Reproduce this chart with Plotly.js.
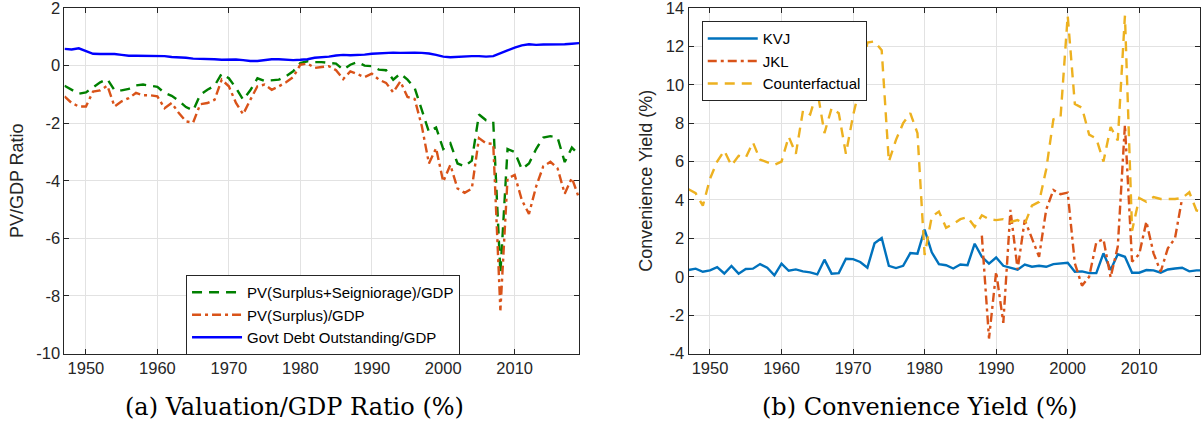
<!DOCTYPE html>
<html><head><meta charset="utf-8">
<script src="https://cdn.plot.ly/plotly-3.0.1.min.js"></script>
<style>html,body{margin:0;padding:0;background:#fff;}#chart{width:1201px;height:425px;}</style>
</head><body><div id="chart"></div>
<script>
// ---------- data ----------
const years = [1947,1948,1949,1950,1951,1952,1953,1954,1955,1956,1957,1958,1959,1960,1961,1962,1963,1964,1965,1966,
  1967,1968,1969,1970,1971,1972,1973,1974,1975,1976,1977,1978,1979,1980,1981,1982,1983,1984,1985,1986,
  1987,1988,1989,1990,1991,1992,1993,1994,1995,1996,1997,1998,1999,2000,2001,2002,2003,2004,2005,2006,
  2007,2008,2009,2010,2011,2012,2013,2014,2015,2016,2017,2018,2019];

// Panel (a)
const pvSurplusSeign = [-0.7,-0.84,-0.98,-0.93,-0.74,-0.58,-0.47,-0.86,-0.86,-0.81,
  -0.69,-0.66,-0.7,-0.74,-0.95,-1.05,-1.22,-1.44,-1.56,-1.01,
  -0.84,-0.7,-0.28,-0.44,-0.78,-1.19,-0.86,-0.44,-0.53,-0.51,
  -0.49,-0.37,-0.2,0.09,0.15,0.12,0.12,0.09,0.07,-0.14,
  0.03,0.12,0.0,-0.02,-0.14,-0.16,-0.49,-0.28,-0.49,-0.78,
  -1.55,-2.3,-2.15,-2.9,-2.7,-3.4,-3.5,-3.3,-1.7,-1.9,
  -1.95,-7.2,-2.9,-3.0,-3.6,-3.4,-2.9,-2.5,-2.45,-2.5,
  -3.35,-2.85,-3.1];
const pvSurplus = [-1.07,-1.3,-1.42,-1.42,-0.9,-0.86,-0.7,-1.42,-1.24,-1.13,
  -0.95,-1.03,-1.03,-1.07,-1.48,-1.3,-1.65,-1.94,-1.98,-1.34,
  -1.3,-1.19,-0.49,-0.72,-1.3,-1.69,-1.19,-0.72,-0.66,-0.84,
  -0.72,-0.58,-0.4,0.03,0.07,-0.08,-0.05,-0.02,-0.16,-0.47,
  -0.2,-0.31,-0.4,-0.28,-0.49,-0.6,-0.93,-0.55,-1.09,-1.16,
  -2.1,-3.4,-2.87,-4.03,-3.45,-4.27,-4.42,-4.27,-2.52,-2.7,
  -2.72,-8.5,-3.92,-3.8,-4.67,-5.15,-4.2,-3.5,-3.34,-3.57,
  -4.45,-3.9,-4.6];
const govtDebt = [0.58,0.56,0.6,0.5,0.41,0.4,0.41,0.4,0.37,0.34,
  0.34,0.34,0.35,0.34,0.33,0.3,0.29,0.27,0.24,0.24,
  0.23,0.22,0.2,0.21,0.21,0.19,0.16,0.16,0.2,0.22,
  0.22,0.2,0.19,0.2,0.22,0.27,0.28,0.31,0.35,0.37,
  0.36,0.36,0.38,0.41,0.43,0.44,0.45,0.44,0.45,0.45,
  0.44,0.42,0.37,0.31,0.29,0.31,0.33,0.33,0.33,0.31,
  0.33,0.44,0.53,0.62,0.7,0.74,0.72,0.73,0.73,0.74,
  0.74,0.76,0.78];

// Panel (b)
const kvj = [0.35,0.42,0.26,0.33,0.5,0.17,0.56,0.16,0.4,0.42,
  0.66,0.47,0.07,0.68,0.31,0.38,0.28,0.23,0.12,0.89,
  0.16,0.19,0.94,0.92,0.77,0.47,1.74,2.02,0.57,0.45,
  0.57,1.23,1.2,2.45,1.27,0.66,0.6,0.43,0.64,0.6,
  1.72,1.04,0.68,1.0,0.57,0.49,0.37,0.63,0.52,0.57,
  0.52,0.66,0.7,0.73,0.26,0.28,0.19,0.19,1.22,0.35,
  1.17,1.04,0.21,0.21,0.35,0.33,0.21,0.38,0.43,0.47,
  0.28,0.33,0.33];
const jklYears = [1988,1989,1990,1991,1992,1993,1994,1995,1996,1997,1998,1999,2000,2001,2002,
  2003,2004,2005,2006,2007,2008,2009,2010,2011,2012,2013,2014,2015,2016];
const jkl = [2.14,-3.22,0.26,-2.4,3.48,0.38,2.96,2.0,1.04,3.5,4.52,4.3,4.38,0.7,-0.47,
  0.0,1.79,1.95,-0.03,1.57,7.9,0.78,1.18,2.87,1.22,0.26,1.48,2.0,4.09];
const counterfactual = [4.56,4.35,3.7,5.1,6.0,6.57,5.8,6.3,6.2,7.0,
  6.1,5.97,5.83,6.0,7.3,6.4,8.66,8.45,9.7,7.48,
  8.78,8.52,6.4,8.4,10.0,12.2,12.26,11.8,6.0,7.13,
  8.0,8.52,7.48,1.13,3.13,3.4,2.55,2.75,3.0,3.1,
  2.6,3.2,3.0,2.95,3.0,2.85,2.95,2.75,3.7,3.9,
  5.6,8.2,8.3,13.6,9.0,8.8,7.4,7.2,6.0,7.8,
  7.1,13.6,2.4,4.1,3.9,4.15,4.05,4.05,4.05,4.1,
  4.4,3.45,3.4];

// tick labels
const xTickVals = [1950,1960,1970,1980,1990,2000,2010];
const xTickText = ['1950','1960','1970','1980','1990','2000','2010'];
const yTickValsA = [-10,-8,-6,-4,-2,0,2];
const yTickTextA = ['-10','-8','-6','-4','-2','0','2'];
const yTickValsB = [-4,-2,0,2,4,6,8,10,12,14];
const yTickTextB = ['-4','-2','0','2','4','6','8','10','12','14'];

// ---------- chart ----------
const sans = 'Liberation Sans, Arial, Helvetica, sans-serif';
const traces = [
  {x: years, y: pvSurplusSeign, name: 'PV(Surplus+Seigniorage)/GDP', type: 'scatter', mode: 'lines',
   line: {color: '#008000', width: 2.4, dash: '10px,7px'}, xaxis: 'x', yaxis: 'y', legend: 'legend'},
  {x: years, y: pvSurplus, name: 'PV(Surplus)/GDP', type: 'scatter', mode: 'lines',
   line: {color: '#D95319', width: 2.4, dash: '9px,4px,3px,4px'}, xaxis: 'x', yaxis: 'y', legend: 'legend'},
  {x: years, y: govtDebt, name: 'Govt Debt Outstanding/GDP', type: 'scatter', mode: 'lines',
   line: {color: '#0000FF', width: 2.4}, xaxis: 'x', yaxis: 'y', legend: 'legend'},
  {x: years, y: kvj, name: 'KVJ', type: 'scatter', mode: 'lines',
   line: {color: '#0072BD', width: 2.4}, xaxis: 'x2', yaxis: 'y2', legend: 'legend2'},
  {x: jklYears, y: jkl, name: 'JKL', type: 'scatter', mode: 'lines',
   line: {color: '#D95319', width: 2.4, dash: '9px,4px,3px,4px'}, xaxis: 'x2', yaxis: 'y2', legend: 'legend2'},
  {x: years, y: counterfactual, name: 'Counterfactual', type: 'scatter', mode: 'lines',
   line: {color: '#EDB120', width: 2.4, dash: '10px,7px'}, xaxis: 'x2', yaxis: 'y2', legend: 'legend2'}
];

const axisCommon = {
  showline: true, linecolor: '#262626', linewidth: 1, mirror: 'ticks',
  ticks: 'inside', ticklen: 5, tickwidth: 1, tickcolor: '#262626',
  showgrid: true, gridcolor: '#e2e2e2', gridwidth: 1, zeroline: false,
  ticklabeloverflow: 'allow',
  tickfont: {family: sans, size: 16.5, color: '#262626'}, fixedrange: true
};
const yDomain = [0.1682, 0.9812];
const legendCommon = {
  bgcolor: '#ffffff', bordercolor: '#262626', borderwidth: 1,
  font: {family: sans, size: 15, color: '#000000'}, itemwidth: 50,
  xanchor: 'left', yanchor: 'top', traceorder: 'normal', tracegroupgap: 0
};

const layout = {
  width: 1201, height: 425,
  margin: {l: 0, r: 0, t: 0, b: 0},
  paper_bgcolor: '#ffffff', plot_bgcolor: '#ffffff',
  showlegend: true,
  xaxis: Object.assign({}, axisCommon, {domain: [0.0537, 0.4821], range: [1947, 2019], anchor: 'y',
    tickmode: 'array', tickvals: xTickVals, ticktext: xTickText}),
  yaxis: Object.assign({}, axisCommon, {domain: yDomain, range: [-10, 2], anchor: 'x',
    tickmode: 'array', tickvals: yTickValsA, ticktext: yTickTextA,
    title: {text: 'PV/GDP Ratio', font: {family: sans, size: 18, color: '#262626'}, standoff: 8}}),
  xaxis2: Object.assign({}, axisCommon, {domain: [0.5733, 0.9992], range: [1947, 2018.5], anchor: 'y2',
    tickmode: 'array', tickvals: xTickVals, ticktext: xTickText}),
  yaxis2: Object.assign({}, axisCommon, {domain: yDomain, range: [-4, 14], anchor: 'x2',
    tickmode: 'array', tickvals: yTickValsB, ticktext: yTickTextB,
    title: {text: 'Convenience Yield (%)', font: {family: sans, size: 18, color: '#262626'}, standoff: 8}}),
  legend: Object.assign({}, legendCommon, {x: 0.1549, y: 0.3529}),
  legend2: Object.assign({}, legendCommon, {x: 0.5843, y: 0.9499}),
  annotations: [
    {text: '(a) Valuation/GDP Ratio (%)', xref: 'paper', yref: 'paper', x: 0.2448, y: 0.0424,
     xanchor: 'center', yanchor: 'middle', showarrow: false,
     font: {family: 'DejaVu Serif, serif', size: 24, color: '#000000'}},
    {text: '(b) Convenience Yield (%)', xref: 'paper', yref: 'paper', x: 0.7652, y: 0.0424,
     xanchor: 'center', yanchor: 'middle', showarrow: false,
     font: {family: 'DejaVu Serif, serif', size: 24, color: '#000000'}}
  ]
};

Plotly.newPlot('chart', traces, layout, {staticPlot: true, displayModeBar: false});
</script></body></html>
